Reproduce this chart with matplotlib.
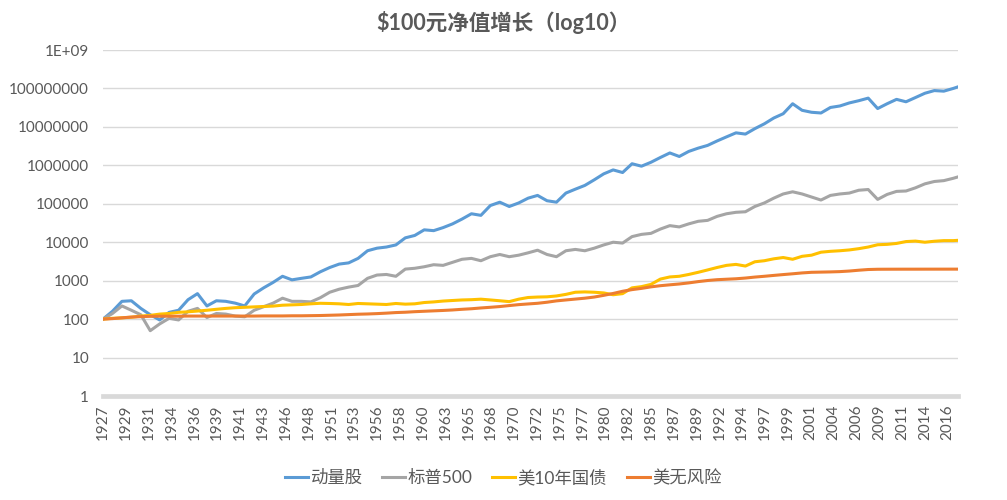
import matplotlib
matplotlib.use("Agg")
import matplotlib.pyplot as plt
import numpy as np

plt.rcParams['font.family'] = ['Lato', 'Noto Sans CJK SC', 'DejaVu Sans']

years = list(range(1927, 2018)) + [2017.5]

momentum = [100, 160, 290, 300, 190, 130, 95, 150, 170, 320,
            460, 220, 300, 290, 260, 220, 450, 650, 900, 1300,
            1050, 1150, 1250, 1700, 2200, 2700, 2900, 3800, 6000, 7000,
            7500, 8500, 13000, 15000, 21000, 20000, 24000, 30000, 40000, 55000,
            50000, 90000, 110000, 85000, 105000, 140000, 165000, 120000, 110000, 190000,
            240000, 300000, 420000, 600000, 760000, 650000, 1100000, 950000, 1200000, 1600000,
            2100000, 1700000, 2300000, 2800000, 3300000, 4300000, 5500000, 7000000, 6500000, 9000000,
            12000000, 17000000, 22000000, 40000000, 27000000, 24000000, 23000000, 32000000, 35000000, 42000000,
            48000000, 56000000, 30000000, 40000000, 52000000, 45000000, 58000000, 75000000, 88000000, 85000000,
            100000000, 110000000]

sp500 = [100, 140, 220, 170, 130, 50, 75, 105, 95, 160,
         190, 110, 140, 135, 120, 115, 170, 210, 260, 350,
         290, 290, 280, 360, 500, 600, 680, 750, 1150, 1400,
         1450, 1300, 2000, 2100, 2300, 2600, 2500, 3000, 3600, 3800,
         3300, 4200, 4800, 4200, 4600, 5300, 6200, 4800, 4200, 6000,
         6500, 6000, 7000, 8500, 10000, 9500, 14000, 16000, 17000, 22000,
         27000, 25000, 30000, 35000, 37000, 47000, 55000, 60000, 62000, 85000,
         105000, 140000, 180000, 205000, 180000, 150000, 125000, 165000, 180000, 190000,
         225000, 235000, 130000, 175000, 210000, 215000, 260000, 330000, 380000, 400000,
         460000, 500000]

treasury10 = [100, 105, 108, 112, 120, 125, 135, 140, 150, 155,
              162, 170, 180, 190, 198, 203, 208, 213, 218, 230,
              235, 240, 250, 258, 255, 250, 240, 255, 250, 245,
              240, 255, 245, 250, 270, 280, 295, 305, 315, 320,
              330, 315, 300, 285, 330, 365, 375, 380, 400, 440,
              500, 510, 500, 480, 430, 460, 650, 700, 800, 1100,
              1250, 1300, 1450, 1650, 1900, 2200, 2500, 2650, 2400, 3100,
              3300, 3700, 4000, 3600, 4300, 4600, 5500, 5800, 6000, 6300,
              6800, 7500, 8600, 8800, 9300, 10400, 10700, 10000, 10600, 11000,
              11000, 11200]

riskfree = [100, 103, 108, 113, 116, 118, 119, 119, 119, 120,
            120, 120, 120, 120, 120, 120, 120, 121, 121, 121,
            122, 122, 123, 124, 126, 128, 131, 134, 136, 139,
            143, 148, 151, 156, 160, 164, 168, 173, 180, 186,
            195, 203, 212, 225, 238, 248, 258, 275, 298, 315,
            332, 350, 375, 415, 465, 530, 585, 630, 690, 740,
            780, 820, 875, 945, 1010, 1060, 1090, 1120, 1170, 1240,
            1300, 1370, 1440, 1510, 1590, 1650, 1670, 1690, 1720, 1780,
            1870, 1950, 1980, 1985, 1988, 1990, 1990, 1992, 1993, 1994,
            1995, 1995]

series_names = ['动量股', '标普500', '美10年国债', '美无风险']
series_colors = ['#5B9BD5', '#A5A5A5', '#FFC000', '#ED7D31']

x_tick_labels = ['1927', '1929', '1931', '1934', '1936', '1939', '1941', '1943', '1946',
                 '1948', '1951', '1953', '1956', '1958', '1960', '1963', '1965', '1968',
                 '1970', '1972', '1975', '1977', '1980', '1982', '1985', '1987', '1989',
                 '1992', '1994', '1997', '1999', '2001', '2004', '2006', '2009', '2011',
                 '2014', '2016']
y_ticks = [1, 10, 100, 1000, 10000, 100000, 1000000, 10000000, 100000000, 1000000000]
y_tick_labels = ['1', '10', '100', '1000', '10000', '100000', '1000000',
                 '10000000', '100000000', '1E+09']

text_color = '#595959'

fig = plt.figure(figsize=(10.07, 5.0), dpi=100)
ax = fig.add_axes([0.1023, 0.208, 0.849, 0.692])

for vals, name, col in zip([momentum, sp500, treasury10, riskfree], series_names, series_colors):
    ax.plot(years, vals, color=col, lw=2.2, label=name, solid_joinstyle='round')

ax.set_yscale('log')
ax.set_ylim(1, 1e9)
ax.set_xlim(1927.0, 2017.5)
ax.set_yticks(y_ticks)
ax.set_yticklabels(y_tick_labels)
ax.yaxis.set_minor_locator(matplotlib.ticker.NullLocator())
ax.grid(axis='y', color='#D9D9D9', lw=1.0)
ax.set_axisbelow(True)

tick_pos = [1927 + i * 29 / 12 for i in range(len(x_tick_labels))]
ax.set_xticks(tick_pos)
ax.set_xticklabels(x_tick_labels, rotation=90)
ax.tick_params(axis='x', length=0, pad=6, labelsize=11, colors=text_color)
ax.tick_params(axis='y', length=0, pad=10, labelsize=11, colors=text_color)

for s in ['top', 'right', 'left']:
    ax.spines[s].set_visible(False)
ax.spines['bottom'].set_color('#D9D9D9')
ax.spines['bottom'].set_linewidth(3.4)

fig.suptitle('$100元净值增长（log10）', x=0.5, y=1 - 22 / 500, va='center',
             fontsize=15.5, fontweight='bold', color=text_color)

fig.legend(loc='center', bbox_to_anchor=(0.5, 1 - 478 / 500), ncol=4, frameon=False,
           fontsize=12.5, handlelength=1.3, handletextpad=0.15, columnspacing=1.15,
           labelcolor=text_color)

fig.savefig('out.png', dpi=100)
